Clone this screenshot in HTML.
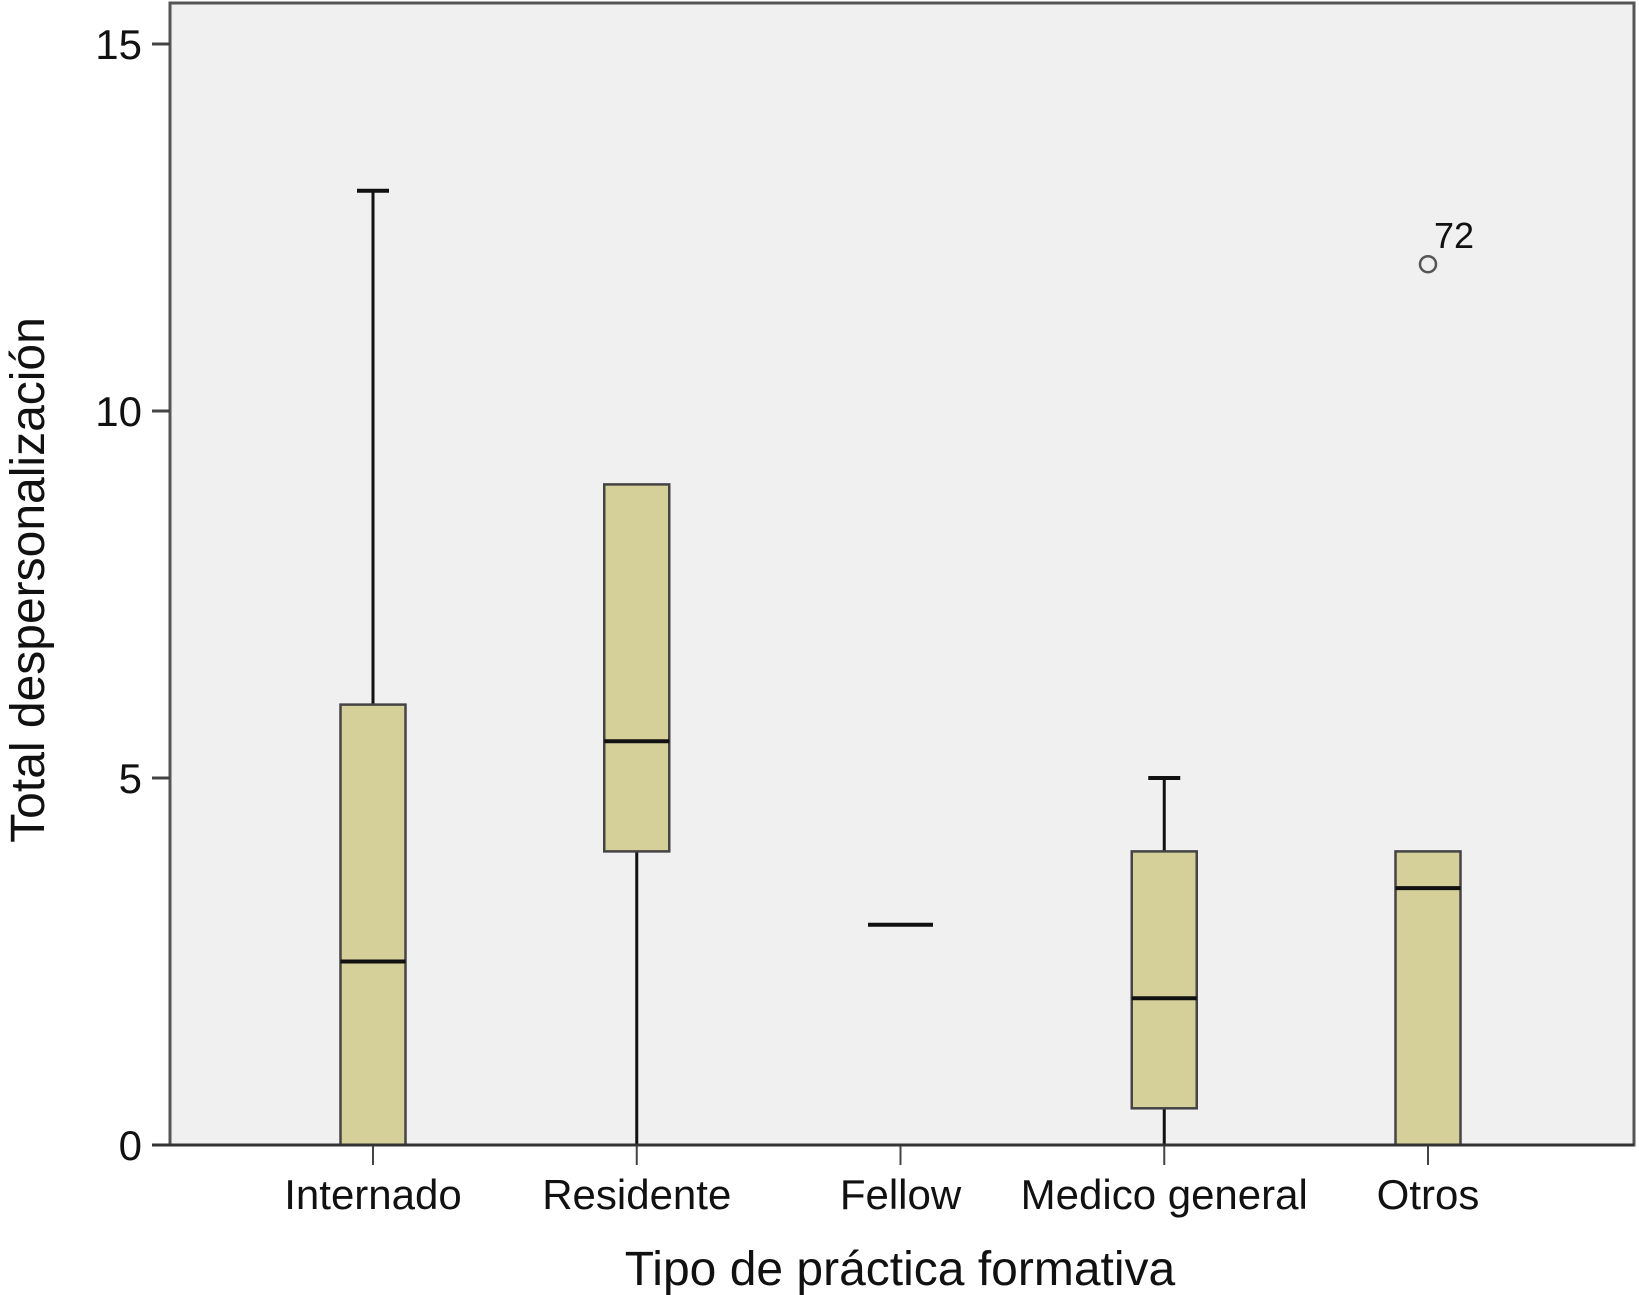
<!DOCTYPE html>
<html><head><meta charset="utf-8"><style>body{margin:0;background:#fff}svg{display:block;font-family:"Liberation Sans",Arial,sans-serif}</style></head>
<body>
<svg id="chart" width="1639" height="1295" viewBox="0 0 1639 1295">
<rect x="170" y="3" width="1464" height="1142" fill="#f0f0f0" stroke="#555" stroke-width="3"/>
<g id="marks"></g>
<text transform="translate(44,580) rotate(-90)" text-anchor="middle" font-size="48" fill="#111">Total despersonalización</text>
<text x="900" y="1285" text-anchor="middle" font-size="48" fill="#111">Tipo de práctica formativa</text>
</svg>
<script>
const categories=["Internado","Residente","Fellow","Medico general","Otros"];
const mins=[0,0,3,0,0];
const q1s=[0,4,3,0.5,0];
const medians=[2.5,5.5,3,2,3.5];
const q3s=[6,9,3,4,4];
const maxs=[13,9,3,5,4];
const outliers=[{cat:4,value:12,label:"72"}];
const yTicks=[0,5,10,15];
const NS="http://www.w3.org/2000/svg";
const g=document.getElementById('marks');
const L=170,R=1634,Y0=1145,Y15=44;
const y=v=>Y0+(Y15-Y0)*v/15;
const x=i=>373+i*263.75;
const bw=65;
function el(t,a,p){const e=document.createElementNS(NS,t);for(const k in a)e.setAttribute(k,a[k]);(p||g).appendChild(e);return e;}
yTicks.forEach(t=>{
 const tk=el('line',{x1:L-18,x2:L,y1:y(t),y2:y(t),stroke:'#444','stroke-width':3});
 
 
 const tx=el('text',{x:L-28,y:y(t)+15,'text-anchor':'end','font-size':42,fill:'#111'});
 tx.textContent=t;
 
 
});
categories.forEach((c,i)=>{
 const cx=x(i);
 const tk=el('line',{x1:cx,x2:cx,y1:Y0,y2:Y0+20,stroke:'#444','stroke-width':2});
 
 
 const tx=el('text',{x:cx,y:Y0+64,'text-anchor':'middle','font-size':42,fill:'#111'});
 tx.textContent=c;
 
 
 const grp=el('g',{});
 
 
 if(maxs[i]>q3s[i]){el('line',{x1:cx,x2:cx,y1:y(maxs[i]),y2:y(q3s[i]),stroke:'#111','stroke-width':3},grp);el('line',{x1:cx-16,x2:cx+16,y1:y(maxs[i]),y2:y(maxs[i]),stroke:'#111','stroke-width':4},grp);}
 if(q1s[i]>mins[i]){el('line',{x1:cx,x2:cx,y1:y(q1s[i]),y2:y(mins[i]),stroke:'#111','stroke-width':3},grp);if(mins[i]>0)el('line',{x1:cx-16,x2:cx+16,y1:y(mins[i]),y2:y(mins[i]),stroke:'#111','stroke-width':4},grp);}
 if(q3s[i]>q1s[i])el('rect',{x:cx-bw/2,y:y(q3s[i]),width:bw,height:y(q1s[i])-y(q3s[i]),fill:'#d5d09a',stroke:'#444','stroke-width':2.5},grp);
 el('line',{x1:cx-bw/2,x2:cx+bw/2,y1:y(medians[i]),y2:y(medians[i]),stroke:'#111','stroke-width':4},grp);
});
outliers.forEach(o=>{
 const c=el('circle',{cx:x(o.cat),cy:y(o.value),r:8,fill:'none',stroke:'#555','stroke-width':2.5});
 
 
 const t=el('text',{x:x(o.cat)+6,y:y(o.value)-16,'font-size':36,fill:'#111'});
 t.textContent=o.label;
 
 
});
const ax=el('line',{x1:L-18,x2:R,y1:Y0,y2:Y0,stroke:'#333','stroke-width':3});


</script>
</body></html>
